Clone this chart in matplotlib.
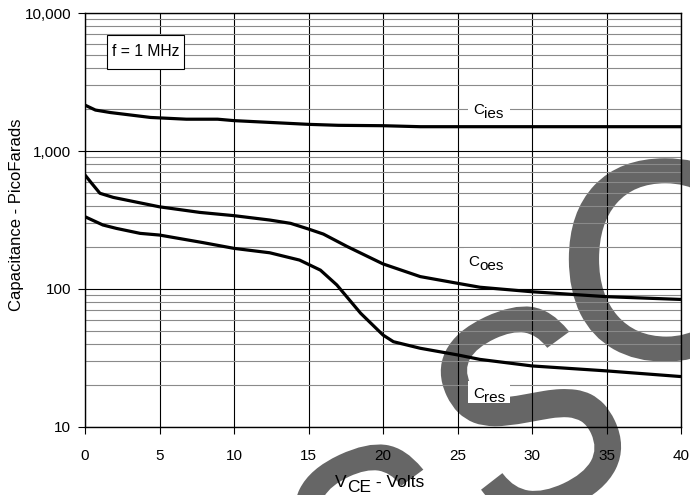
import matplotlib
matplotlib.use('Agg')
import matplotlib.pyplot as plt
from matplotlib.ticker import NullFormatter, LogLocator
from matplotlib.textpath import TextPath
from matplotlib.patches import PathPatch, Rectangle
from matplotlib.font_manager import FontProperties
from matplotlib.transforms import Affine2D

plt.rcParams['font.family'] = ['Liberation Sans', 'DejaVu Sans']

# capacitance vs collector-emitter voltage, f = 1 MHz
cies_v = [0, 0.7, 1.7, 4.4, 6.8, 8.9, 10, 15, 17, 20, 22.5, 30, 40]
cies_pf = [2150, 1980, 1900, 1750, 1700, 1700, 1660, 1560, 1535, 1525, 1500, 1500, 1500]

coes_v = [0, 0.45, 1.0, 1.9, 5.0, 7.7, 10, 12.4, 13.8, 15, 16, 17.6, 20, 22.5, 25, 26.5, 30, 35, 40]
coes_pf = [670, 583, 494, 461, 394, 359, 340, 316, 299, 272, 250, 203, 152, 123, 110, 103, 95.5, 88, 84]

cres_v = [0, 1.2, 2.1, 3.7, 5.0, 7.9, 10, 12.4, 14.4, 15.8, 16.9, 18.5, 20, 20.7, 22.5, 25, 26.5, 30, 35, 40]
cres_pf = [334, 291, 275, 253, 246, 217, 197, 183, 162, 137, 107, 66.7, 46.4, 41.5, 37.2, 33.3, 30.9, 27.7, 25.5, 23.2]

x_ticks = [0, 5, 10, 15, 20, 25, 30, 35, 40]
y_ticks = [10, 100, 1000, 10000]
y_tick_labels = ['10', '100', '1,000', '10,000']

W, H = 690, 495
fig = plt.figure(figsize=(W / 100, H / 100), dpi=100)
ax = fig.add_axes([85 / W, (H - 427) / H, 596 / W, 414 / H])
ax.set_facecolor('none')
pix = Affine2D().scale(1 / W, 1 / H) + fig.transFigure


def watermark(ch, cx, cy, height, angle, squeeze=1.0):
    # big grey letter behind the plot, placed in pixel units
    tp = TextPath((0, 0), ch, size=100, prop=FontProperties(family='Liberation Sans'))
    ext = tp.get_extents()
    s = height / ext.height
    tr = (Affine2D().translate(-(ext.x0 + ext.x1) / 2, -(ext.y0 + ext.y1) / 2)
          .scale(s * squeeze, s).rotate_deg(angle).translate(cx, H - cy).scale(1 / W, 1 / H))
    fig.add_artist(PathPatch(tr.transform_path(tp), transform=fig.transFigure,
                             fc='#666666', ec='#666666', lw=2.5, zorder=-5))


watermark('S', 382, 550, 205, 25, 0.88)
watermark('S', 528, 412, 205, 25, 0.88)
watermark('C', 660, 260, 200, 0)


def sub_label(x, y, main, sub, rest='', size=11, drop=3.2, z=6):
    # main text followed by a same-size lowered subscript, pixel position
    t = ax.text(x, y, main, fontsize=size, ha='left', va='bottom', transform=pix,
                clip_on=False, zorder=z)
    s = ax.annotate(sub, xy=(1, 0), xycoords=t, xytext=(0, -drop), textcoords='offset points',
                    fontsize=size, ha='left', va='bottom', annotation_clip=False, zorder=z)
    if rest:
        ax.annotate(rest, xy=(1, 0), xycoords=s, xytext=(0, drop), textcoords='offset points',
                    fontsize=size, ha='left', va='bottom', annotation_clip=False, zorder=z)


for xs, ys in [(cies_v, cies_pf), (coes_v, coes_pf), (cres_v, cres_pf)]:
    ax.plot(xs, ys, color='black', lw=2.3, solid_capstyle='butt', zorder=4)

ax.set_yscale('log')
ax.set_xlim(0, 40)
ax.set_ylim(10, 10000)
ax.set_xticks(x_ticks)
ax.set_yticks(y_ticks)
ax.set_yticklabels(y_tick_labels)
ax.yaxis.set_minor_locator(LogLocator(base=10, subs=range(2, 10)))
ax.yaxis.set_minor_formatter(NullFormatter())

ax.grid(True, which='major', color='black', lw=0.8, zorder=1)
ax.grid(True, which='minor', axis='y', color='#8a8a8a', lw=0.8, zorder=1)
ax.set_axisbelow(True)

ax.tick_params(axis='both', which='major', direction='out', length=5, width=0.8,
               labelsize=11, colors='black')
ax.tick_params(axis='x', pad=11)
ax.tick_params(axis='y', pad=5)
ax.tick_params(which='minor', length=0)
for sp in ax.spines.values():
    sp.set_linewidth(1.0)

# white patches behind the curve labels
for (x0, y0, x1, y1) in [(468, 100, 510, 121), (464, 248, 511, 271), (468, 381, 510, 403)]:
    ax.add_patch(Rectangle((x0, H - y1), x1 - x0, y1 - y0, transform=pix,
                           fc='white', ec='none', zorder=3, clip_on=False))

sub_label(473, H - 117, 'C', 'ies')
sub_label(468, H - 269, 'C', 'oes')
sub_label(473, H - 401, 'C', 'res')

# frequency note box
ax.add_patch(Rectangle((107, H - 69), 77, 34, transform=pix, fc='white', ec='black',
                       lw=0.8, zorder=6, clip_on=False))
ax.text(112, H - 52, 'f = 1 MHz', fontsize=11.3, ha='left', va='center', transform=pix,
        zorder=7)

sub_label(335, H - 490, 'V', 'CE', ' - Volts', size=12.5, drop=3.5)
fig.text(17 / W, 1 - 215 / H, 'Capacitance - PicoFarads', fontsize=12, rotation=90,
         ha='center', va='center')

fig.savefig('out.png', dpi=100, facecolor='white')
